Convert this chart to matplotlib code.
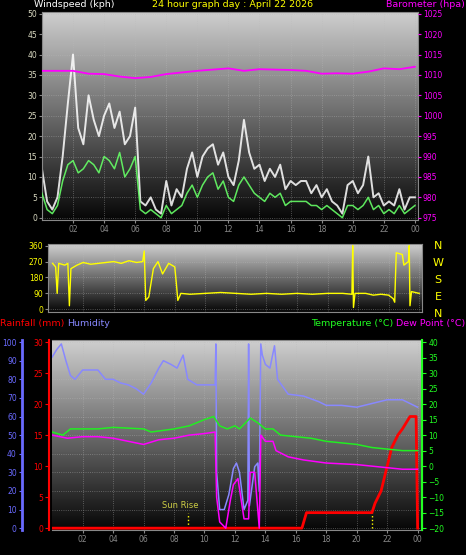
import numpy as np
import matplotlib
matplotlib.use("Agg")
import matplotlib.pyplot as plt

# ---------------- data ----------------
wind_t = [i / 3 for i in range(73)]
gust = [12,4,2, 5,15,28, 40,22,18, 30,24,20, 25,28,22, 26,18,20, 27,4,3, 5,2,1,
        9,3,7, 5,12,16, 10,15,17, 18,13,16, 10,8,14, 24,16,12, 13,9,12, 10,13,7,
        9,8,9, 9,6,8, 5,7,4, 3,1,8, 9,6,8, 15,5,6, 3,4,3, 7,2,5, 5]
avg = [6,2,1, 3,9,13, 14,11,12, 14,13,11, 15,14,12, 16,10,12, 15,2,1, 2,1,0,
       3,1,2, 3,6,8, 5,8,10, 11,7,9, 5,4,8, 10,8,6, 5,4,6, 5,6,3,
       4,4,4, 4,3,3, 2,3,2, 1,0,3, 3,2,3, 5,2,3, 1,2,1, 3,1,2, 3]
baro_t = list(range(25))
baro = [1011,1011,1011,1010.3,1010.2,1009.6,1009.2,1009.5,1010.2,1010.6,1011,1011.3,1011.6,
        1011,1011.4,1011.3,1011.2,1011,1010.3,1010.4,1010.3,1010.8,1011.6,1011.4,1012]

dir_t = [0,0.2,0.3,0.4,0.8,1.0,1.1,1.2,1.6,2.0,2.5,3.0,3.5,4.0,4.5,5.0,5.5,5.9,6.0,6.1,6.3,
         6.6,6.9,7.2,7.6,8.0,8.1,8.2,8.4,9,10,11,12,13,14,15,16,17,18,19,19.6,19.65,19.7,
         19.8,20.5,21,21.5,22,22.3,22.4,22.5,22.9,23.0,23.3,23.35,23.4,23.5,24.0]
wdir = [260,240,90,260,250,260,20,230,250,265,255,260,265,270,260,275,265,270,330,50,70,
        230,270,200,260,240,150,50,90,85,90,95,90,85,90,85,90,85,90,90,85,360,10,
        90,90,80,85,80,60,40,320,310,250,270,360,20,100,90]

hum_t = [0,0.3,0.6,0.9,1.2,1.5,2,3,3.5,4,4.5,5,5.5,6,6.5,7,7.3,7.8,8.2,8.6,8.9,9.5,10,10.6,
         10.7,10.75,10.8,11.0,11.3,11.6,11.9,12.1,12.3,12.6,12.85,12.9,12.95,13.3,13.5,13.6,
         13.7,13.8,14.0,14.3,14.6,14.8,15.5,16.5,17.5,18,19,20,21,22,23,24]
hum = [92,96,99,90,82,80,85,85,80,80,78,77,75,72,78,86,90,88,86,93,80,77,77,77,
       77,99,30,10,10,18,32,35,30,10,15,99,12,33,35,20,
       99,93,88,86,98,80,72,71,68,66,66,65,67,69,69,65]
temp_t = [0,0.7,1.2,3,4,6,6.5,8,9,10,10.6,11,11.5,12,12.3,13,13.5,14,14.5,15,16,17,18,20,21,22,23,24]
temp = [11,10,12,12,12.5,12,11,12,13,15,16,13,12,13,12,15.5,14,12,12,10,9.5,9,8,7,6,5.5,5,5]
dew_t = [0,1,2,3,4,5,6,7,8,9,10,10.7,10.8,11.0,11.4,11.7,11.9,12.2,12.6,12.9,13.0,13.3,13.6,
         13.7,14,14.5,14.7,15.5,16.5,18,20,21,22,23,24]
dew = [10,9,9.5,9.5,9,8,7,8.5,9,10,10.5,11,-10,-18,-20,-11,-6,-4,-17,-17,-2,-2,-20,
       10,8,8,5,3,2,1,0.5,0,-0.5,-1,-1]
rain_t = [0,16.4,16.7,21.0,21.2,21.6,22.0,22.3,22.7,23.0,23.5,23.9,24.0]
rain = [0,0,2.5,2.5,4,6,10,13,15,16,18,18,0]
xlabels = ["02","04","06","08","10","12","14","16","18","20","22","00"]
xticks = list(range(2, 25, 2))

# ---------------- style ----------------
fig = plt.figure(figsize=(4.66, 5.55), dpi=100, facecolor="black")
grad = np.linspace(0, 1, 256).reshape(-1, 1)
cmap = matplotlib.colors.LinearSegmentedColormap.from_list("g", ["#060606", "#cfcfcf"])
FS = 5.5
HF = 6.8

def base(ax, ylim, xlim=(0, 24.2)):
    ax.set_facecolor("black")
    ax.imshow(grad, aspect="auto", cmap=cmap, origin="lower",
              extent=[xlim[0], xlim[1], ylim[0], ylim[1]], zorder=0)
    ax.set_xlim(*xlim); ax.set_ylim(*ylim)
    ax.grid(True, color="#bbbbbb", ls=":", lw=0.6, alpha=0.5)
    ax.set_xticks(xticks)
    ax.set_xticklabels(xlabels, color="yellow", fontsize=FS)
    for s in ax.spines.values():
        s.set_color("#888888")
    ax.tick_params(colors="#888888", length=2, pad=1.5, labelsize=FS)

# Top panel
ax1 = fig.add_axes([0.090, 0.604, 0.807, 0.375])
base(ax1, (-0.5, 50.5))
ax1.set_yticks(range(0, 51, 5))
ax1.tick_params(axis="y", labelcolor="#d8d8c0")
ax1.plot(wind_t, gust, color="white", lw=1.4, alpha=0.85, zorder=2)
ax1.plot(wind_t, avg, color="#66ff66", lw=1.1, alpha=0.9, zorder=3)
ax1b = ax1.twinx()
ax1b.set_ylim(975 - 0.5, 1025 + 0.5)
ax1b.set_yticks(range(975, 1026, 5))
ax1b.tick_params(colors="magenta", labelsize=FS, length=2, pad=1.5)
ax1b.plot(baro_t, baro, color="magenta", lw=1.3)
for s in ax1b.spines.values():
    s.set_visible(False)
fig.text(0.073, 0.9995, "Windspeed (kph)", color="white", fontsize=HF, va="top")
fig.text(0.5, 0.9995, "24 hour graph day : April 22 2026", color="yellow", fontsize=HF, va="top", ha="center")
fig.text(0.998, 0.9995, "Barometer (hpa)", color="magenta", fontsize=HF, va="top", ha="right")

# Middle panel
ax2 = fig.add_axes([0.103, 0.438, 0.803, 0.1225])
base(ax2, (-15, 370), xlim=(-0.3, 24.2))
ax2.set_yticks([0, 90, 180, 270, 360])
ax2.tick_params(axis="y", labelcolor="yellow")
ax2.set_xticklabels([])
ax2.tick_params(axis="x", length=0)
ax2.plot(dir_t, wdir, color="yellow", lw=1.0, zorder=3)
for i, c in enumerate(["N", "W", "S", "E", "N"]):
    fig.text(0.94, 0.556 - i * 0.0305, c, color="yellow", fontsize=8, ha="center", va="center")

fig.text(0.0, 0.4175, "Rainfall (mm)", color="red", fontsize=HF, va="center")
fig.text(0.143, 0.4175, "Humidity", color="#8888ff", fontsize=HF, va="center")
fig.text(0.668, 0.4175, "Temperature (°C)", color="#22ff22", fontsize=HF, va="center")
fig.text(0.999, 0.4175, "Dew Point (°C)", color="magenta", fontsize=HF, va="center", ha="right")

# Bottom panel
ax3 = fig.add_axes([0.112, 0.045, 0.794, 0.342])
base(ax3, (-1, 101), xlim=(0, 24.3))
ax3.set_yticks(range(0, 101, 10))
ax3.tick_params(axis="y", labelcolor="#6a6aff", colors="#6a6aff")
ax3.spines["left"].set_position(("outward", 22))
ax3.spines["left"].set_color("#6a6aff"); ax3.spines["left"].set_linewidth(2)
ax3.plot(hum_t, hum, color="#8888ff", lw=1.1, zorder=3)

axr = ax3.twinx()
axr.yaxis.set_ticks_position("left")
axr.set_ylim(-0.3, 30.3)
axr.set_yticks(range(0, 31, 5))
axr.tick_params(colors="red", labelsize=FS, length=3, pad=1.5)
axr.spines["left"].set_visible(True)
axr.spines["left"].set_position(("outward", 2))
axr.spines["left"].set_color("red"); axr.spines["left"].set_linewidth(1.5)
for k in ("right", "top", "bottom"):
    axr.spines[k].set_visible(False)
axr.plot(rain_t, rain, color="red", lw=2, zorder=5)
axr.plot([8.9, 8.9], [0, 2.5], color="yellow", ls=":", lw=1)
axr.plot([21.0, 21.0], [0, 2.5], color="yellow", ls=":", lw=1)
axr.text(8.4, 3.0, "Sun Rise", color="#cccc44", fontsize=6, ha="center", va="bottom")

axt = ax3.twinx()
axt.set_ylim(-20.6, 40.6)
axt.set_yticks(range(-20, 41, 5))
axt.tick_params(colors="#22ff22", labelsize=FS, length=3, pad=1.5)
axt.spines["right"].set_color("#22ff22"); axt.spines["right"].set_linewidth(1.5)
for k in ("left", "top", "bottom"):
    axt.spines[k].set_visible(False)
axt.plot(dew_t, dew, color="magenta", lw=1.1)
axt.plot(temp_t, temp, color="#22ee22", lw=1.1)

fig.savefig("out.png", dpi=100, facecolor="black")
